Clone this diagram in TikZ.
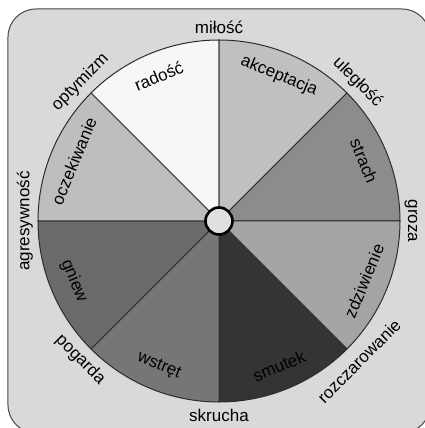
\documentclass[tikz,border=0pt]{standalone}
\usepackage{fontspec}
\setmainfont{Liberation Sans}
\usepackage{tikz}
\definecolor{bg_gray}{RGB}{217,217,217}
\definecolor{frame_gray}{RGB}{70,70,70}
\definecolor{line_gray}{RGB}{45,45,45}
\definecolor{mid_gray}{RGB}{224,224,224}
\definecolor{s_radosc}{RGB}{247,247,247}
\definecolor{s_akcept}{RGB}{192,192,192}
\definecolor{s_strach}{RGB}{140,140,140}
\definecolor{s_zdziw}{RGB}{164,164,164}
\definecolor{s_smutek}{RGB}{52,52,52}
\definecolor{s_wstret}{RGB}{118,118,118}
\definecolor{s_gniew}{RGB}{106,106,106}
\definecolor{s_oczek}{RGB}{190,190,190}

\begin{document}
\begin{tikzpicture}[x=1pt,y=1pt]
    \tikzstyle{wedge}=[draw=line_gray, line width=1pt]
    \tikzstyle{label}=[font=\fontsize{17}{17}\selectfont, text=black, inner sep=0pt]

    \useasboundingbox (-219,-207) rectangle (205,221);
    \draw[rounded corners=28pt, fill=bg_gray, draw=frame_gray, line width=1pt]
        (-211,-212) rectangle (211,212);

    % wedges of the wheel
    \foreach \a/\col in {90/s_radosc, 45/s_akcept, 0/s_strach, -45/s_zdziw,
                         -90/s_smutek, -135/s_wstret, 180/s_gniew, 135/s_oczek}
        \draw[wedge, fill=\col] (0,0) -- (\a:181) arc (\a:\a+45:181) -- cycle;

    % emotions inside
    \foreach \m/\txt/\rot [count=\i] in {112.5/radość/22.5, 67.5/akceptacja/-22.5,
            22.5/strach/-67.5, -22.5/zdziwienie/67.5, -67.5/smutek/22.5,
            -112.5/wstręt/-22.5, -157.5/gniew/-67.5, 157.5/oczekiwanie/67.5}
        \node[label, rotate=\rot] (in\i) at (\m:157) {\txt};

    % dyads outside
    \foreach \a/\r/\txt/\rot [count=\i] in {90/194/miłość/0, 45/196/uległość/-45,
            0/192/groza/-90, -45/198/rozczarowanie/45, -90/194/skrucha/0,
            -135/196/pogarda/-45, 180/194/agresywność/90, 135/196/optymizm/45}
        \node[label, rotate=\rot] (out\i) at (\a:\r) {\txt};

    \node[circle, draw=black, line width=2.6pt, fill=mid_gray, minimum size=27pt] (c) at (0,0) {};
\end{tikzpicture}
\end{document}
